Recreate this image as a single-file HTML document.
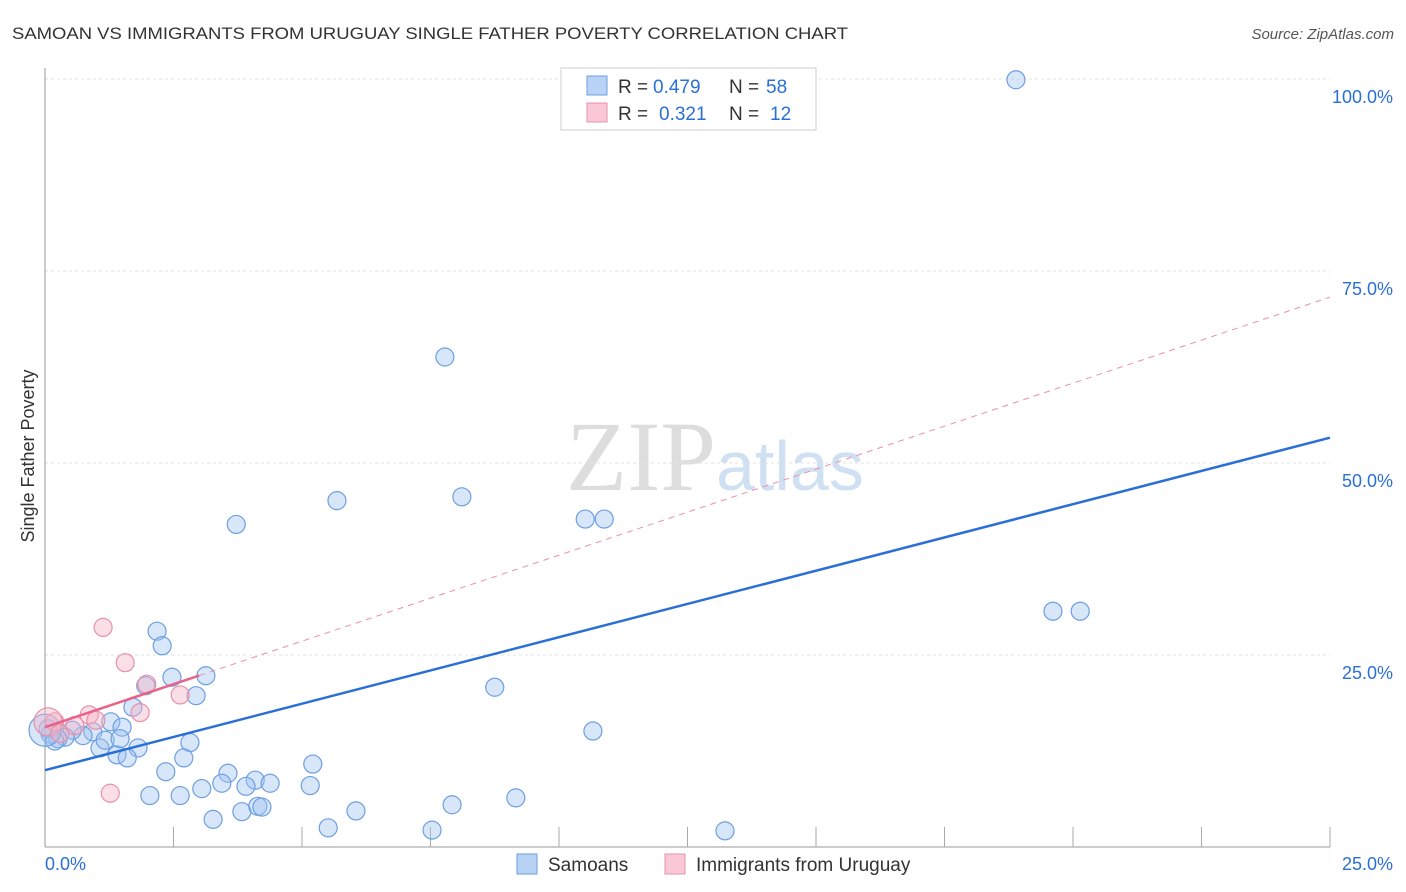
<!DOCTYPE html>
<html><head><meta charset="utf-8"><style>
body{margin:0;background:#fff;font-family:"Liberation Sans",sans-serif;}
svg{display:block}
</style></head><body>
<svg id="c" width="1406" height="892">
<text x="12" y="39" font-size="17" fill="#333" textLength="836" lengthAdjust="spacingAndGlyphs">SAMOAN VS IMMIGRANTS FROM URUGUAY SINGLE FATHER POVERTY CORRELATION CHART</text>
<text x="1394" y="39" font-size="15" fill="#555" font-style="italic" text-anchor="end">Source: ZipAtlas.com</text>
<text x="34" y="456" font-size="18" fill="#333" text-anchor="middle" transform="rotate(-90 34 456)">Single Father Poverty</text>
<text x="716" y="490" font-size="100" fill="#ddd" font-family="Liberation Serif,serif" text-anchor="end">ZIP</text>
<text x="716" y="490" font-size="70" fill="#cfe0f3" text-anchor="start">atlas</text>
<g id="grid"></g><g id="marks"></g>
<g>
<rect x="561" y="68" width="255" height="62" fill="#fff" stroke="#ccc"/>
<rect x="587" y="76" width="20" height="19" fill="#b8d3f5" stroke="#6e9fe0"/>
<rect x="587" y="103" width="20" height="19" fill="#f9c7d5" stroke="#e890aa"/>
<text x="618" y="93" font-size="19" fill="#333">R =</text><text x="653" y="93" font-size="19" fill="#2a6fd6">0.479</text>
<text x="729" y="93" font-size="19" fill="#333">N =</text><text x="766" y="93" font-size="19" fill="#2a6fd6">58</text>
<text x="618" y="120" font-size="19" fill="#333">R =</text><text x="659" y="120" font-size="19" fill="#2a6fd6">0.321</text>
<text x="729" y="120" font-size="19" fill="#333">N =</text><text x="770" y="120" font-size="19" fill="#2a6fd6">12</text>
</g>
<g>
<rect x="517" y="854" width="20" height="20" fill="#b8d3f5" stroke="#6e9fe0"/>
<text x="548" y="871" font-size="19" fill="#333">Samoans</text>
<rect x="665" y="854" width="20" height="20" fill="#f9c7d5" stroke="#e890aa"/>
<text x="696" y="871" font-size="19" fill="#333">Immigrants from Uruguay</text>
</g>
</svg>
<script>
const xTicks=[0,25];
const yTicks=[25,50,75,100];
const samoansX=[18.89,7.78,5.68,8.11,3.72,10.51,10.88,19.61,20.14,2.18,2.28,3.13,2.47,2.94,8.75,1.96,10.66,1.71,1.28,1.5,0.93,0.74,0.53,0.39,0.25,0.1,1.81,1.07,1.4,1.6,2.82,2.7,2.35,5.21,3.56,3.44,4.09,3.91,4.38,5.16,3.05,2.04,2.63,9.16,3.27,3.83,4.14,4.22,6.05,7.92,5.51,7.53,13.23,1.17,0.06,0.19,1.46,0];
const samoansY=[99.9,63.8,45.1,45.6,42,42.7,42.7,30.7,30.7,28.1,26.2,22.3,22.1,19.7,20.8,21,15.1,18.2,16.3,15.6,15,14.5,15.2,14.3,14.1,14.7,12.9,12.9,12,11.6,13.6,11.6,9.8,10.8,9.6,8.3,8.7,7.9,8.3,8,7.6,6.7,6.7,6.4,3.6,4.6,5.3,5.2,4.7,5.5,2.5,2.2,2.1,13.9,15.4,13.8,14.1,15.2];
const samoansR=[9,9,9,9,9,9,9,9,9,9,9,9,9,9,9,9,9,9,9,9,9,9,9,9,9,9,9,9,9,9,9,9,9,9,9,9,9,9,9,9,9,9,9,9,9,9,9,9,9,9,9,9,9,9,9,9,9,16];
const uruguayX=[1.13,1.56,1.98,2.63,1.85,0.86,0.99,0.19,1.27,0.06,0.29,0.58];
const uruguayY=[28.6,24,21.2,19.8,17.5,17.2,16.5,16.3,7,16.3,14.8,15.8];
const uruguayR=[9,9,9,9,9,9,9,9,9,14,9,9];
const blueLine=[10.0,53.3];
const pinkLine=[15.6,2.24];
const X=v=>45+v*51.4, Y=v=>847-v*7.68;
const NS="http://www.w3.org/2000/svg";
function mk(tag,attrs,parent){const e=document.createElementNS(NS,tag);for(const k in attrs)e.setAttribute(k,attrs[k]);parent.appendChild(e);return e;}
const g=document.getElementById('grid'),m=document.getElementById('marks');
for(const t of yTicks){
 const l=mk('line',{x1:45,x2:1330,y1:Y(t),y2:Y(t),stroke:'#e2e2e2','stroke-dasharray':'3,3'},g);
 
 
 const tx=mk('text',{x:1393,y:Y(t)+24,'font-size':18,fill:'#2a6fd6','text-anchor':'end'},g);tx.textContent=t.toFixed(1)+'%';
 
 
}
const ax=mk('line',{x1:45,x2:45,y1:68,y2:847,stroke:'#999'},g);


const bx=mk('line',{x1:45,x2:1330,y1:847,y2:847,stroke:'#999'},g);


for(let i=1;i<=10;i++){const tk=mk('line',{x1:X(i*2.5),x2:X(i*2.5),y1:827,y2:847,stroke:'#aaa'},g);
 
 }
xTicks.forEach((t,i)=>{const tx=mk('text',{x:i?1393:45,y:870,'font-size':18,fill:'#2a6fd6','text-anchor':i?'end':'start'},g);tx.textContent=t.toFixed(1)+'%';
 
 });
samoansX.forEach((x,i)=>{const c=mk('circle',{cx:X(x),cy:Y(samoansY[i]),r:samoansR[i],fill:'rgba(160,196,240,0.42)',stroke:'#6e9fe0','stroke-width':1.2},m);
 
 });
uruguayX.forEach((x,i)=>{const c=mk('circle',{cx:X(x),cy:Y(uruguayY[i]),r:uruguayR[i],fill:'rgba(246,178,198,0.42)',stroke:'#e890aa','stroke-width':1.2},m);
 
 });
const bl=mk('line',{x1:X(0),y1:Y(blueLine[0]),x2:X(25),y2:Y(blueLine[1]),stroke:'#2a6fd6','stroke-width':2.5},m);


const pd=mk('line',{x1:X(3.0),y1:Y(pinkLine[0]+pinkLine[1]*3),x2:X(25),y2:Y(pinkLine[0]+pinkLine[1]*25),stroke:'#e890aa','stroke-width':1,'stroke-dasharray':'6,5'},m);


const pl=mk('line',{x1:X(0),y1:Y(pinkLine[0]),x2:X(3.0),y2:Y(pinkLine[0]+pinkLine[1]*3),stroke:'#e8628a','stroke-width':2.5},m);


</script>
</body></html>
